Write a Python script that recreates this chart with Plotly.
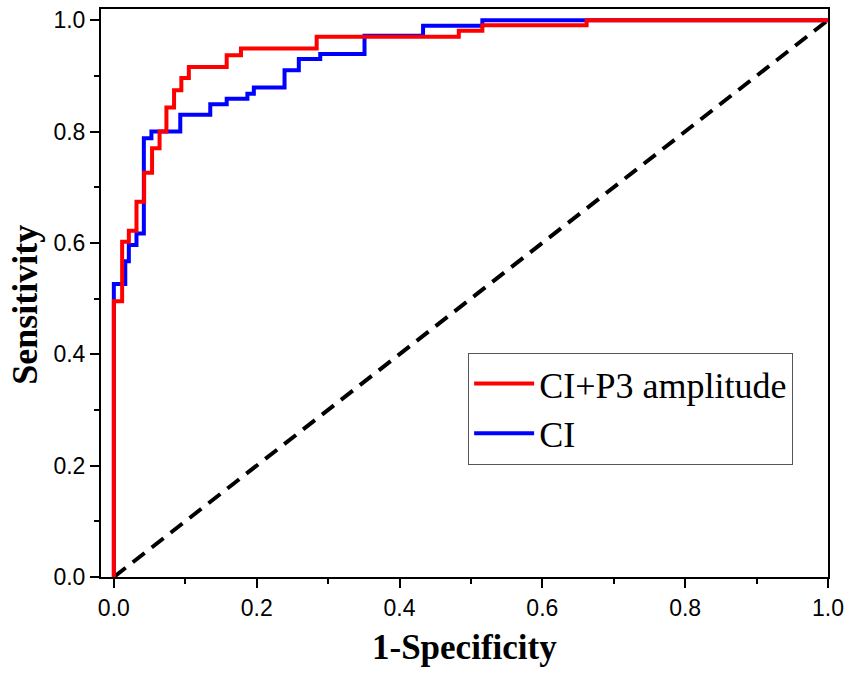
import plotly.graph_objects as go

# ROC step vertices (x = 1-Specificity, y = Sensitivity)
red_name = "CI+P3 amplitude"
red_x = [0, 0, 0.0116, 0.021, 0.0317, 0.0424, 0.0535, 0.064, 0.0736, 0.0843,
         0.0945, 0.105, 0.158, 0.178, 0.284, 0.483, 0.516, 0.662, 1.0]
red_y = [0, 0.495, 0.602, 0.622, 0.674, 0.726, 0.770, 0.800, 0.843, 0.874,
         0.896, 0.916, 0.937, 0.949, 0.970, 0.981, 0.991, 1.0, 1.0]

blue_name = "CI"
blue_x = [0, 0, 0.016, 0.021, 0.0317, 0.042, 0.0526, 0.093, 0.135, 0.158,
          0.187, 0.196, 0.239, 0.259, 0.289, 0.351, 0.433, 0.516, 1.0]
blue_y = [0, 0.526, 0.567, 0.596, 0.617, 0.788, 0.800, 0.830, 0.849, 0.859,
          0.868, 0.879, 0.910, 0.930, 0.939, 0.972, 0.990, 1.0, 1.0]

ref_x = [0, 1]
ref_y = [0, 1]

tick_vals = [0.0, 0.2, 0.4, 0.6, 0.8, 1.0]
tick_text = ["0.0", "0.2", "0.4", "0.6", "0.8", "1.0"]

x_title = "1-Specificity"
y_title = "Sensitivity"

fig = go.Figure()
fig.add_trace(go.Scatter(x=ref_x, y=ref_y, mode="lines", showlegend=False,
                         line=dict(color="black", width=4, dash="15px,9px"),
                         hoverinfo="skip"))
fig.add_trace(go.Scatter(x=blue_x, y=blue_y, mode="lines", name=blue_name,
                         line=dict(color="#0000FF", width=4, shape="hv"),
                         legendrank=2))
fig.add_trace(go.Scatter(x=red_x, y=red_y, mode="lines", name=red_name,
                         line=dict(color="#FF0000", width=4, shape="hv"),
                         legendrank=1))

axis_common = dict(
    showline=True, linecolor="black", linewidth=2, mirror=True,
    ticks="outside", ticklen=9, tickwidth=2, tickcolor="black",
    showgrid=False, zeroline=False,
    tickvals=tick_vals, ticktext=tick_text,
    tickfont=dict(family="Liberation Sans, Arial", size=23, color="black"),
    minor=dict(ticks="outside", ticklen=5, tickwidth=2, tickcolor="black",
               dtick=0.1, tick0=0, showgrid=False),
)

fig.update_layout(
    width=851, height=674,
    margin=dict(l=101, r=21, t=7, b=97, pad=0),
    paper_bgcolor="white", plot_bgcolor="white",
    xaxis=dict(range=[-0.018, 1.0], **axis_common),
    yaxis=dict(range=[0, 1.02], **axis_common),
    legend=dict(x=0.505, y=0.395, xanchor="left", yanchor="top",
                bgcolor="white", bordercolor="#555555", borderwidth=1,
                font=dict(family="Liberation Serif, Times New Roman", size=36, color="black"),
                tracegroupgap=0, itemwidth=60),
    annotations=[
        dict(text="<b>%s</b>" % x_title, xref="paper", yref="paper",
             x=0.5, y=-0.1246, xanchor="center", yanchor="middle", showarrow=False,
             font=dict(family="Liberation Serif, Times New Roman", size=35, color="black")),
        dict(text="<b>%s</b>" % y_title, xref="paper", yref="paper",
             x=-0.104, y=0.48, xanchor="center", yanchor="middle", showarrow=False,
             textangle=-90,
             font=dict(family="Liberation Serif, Times New Roman", size=36, color="black")),
    ],
)

fig.write_html("out.html", config={"displayModeBar": False},
               post_script="document.body.style.margin='0px';")
